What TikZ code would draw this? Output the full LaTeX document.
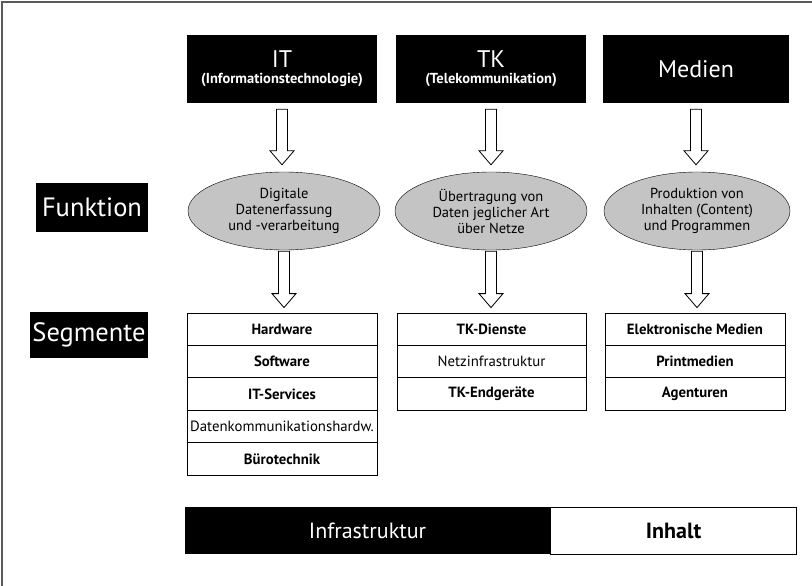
\documentclass[tikz,border=0pt]{standalone}
\usepackage{fontspec}
\setmainfont{PT Sans}
\usetikzlibrary{positioning,shapes.geometric,calc}
\definecolor{ellgray}{HTML}{C4C4C4}
\definecolor{framegray}{HTML}{5A5A5A}

\tikzset{
  headbox/.style={fill=black,text=white,minimum width=190pt,minimum height=68pt,inner sep=0pt,align=center},
  labelbox/.style={fill=black,text=white,font=\fontsize{26.5}{30}\selectfont,inner sep=0pt},
  funkell/.style={ellipse,draw=black,fill=ellgray,minimum width=192pt,minimum height=78pt,inner sep=0pt,align=center,font=\fontsize{14.5}{16}\selectfont},
  segbox/.style={draw=black,line width=0.8pt,minimum height=32.4pt,inner sep=0pt,font=\fontsize{14.8}{17}\selectfont},
  hollow/.style={draw=black,line width=0.8pt,fill=white},
  barbox/.style={minimum height=47pt,inner sep=0pt,font=\fontsize{22}{26}\selectfont}
}

% Blockpfeil: von #1 nach #2, Abstand oben #3, unten #4
\newcommand{\hollowarrow}[4]{%
  \draw[hollow] ($(#1.south)+(-5.5,#3)$) -- ($(#1.south |- #2.north)+(-5.5,-#4-14)$)
    -- ++(-6.5,0) -- ($(#1.south |- #2.north)+(0,-#4)$)
    -- ($(#1.south |- #2.north)+(12,-#4-14)$) -- ++(-6.5,0)
    -- ($(#1.south)+(5.5,#3)$) -- cycle;}

\begin{document}
\begin{tikzpicture}[x=1pt,y=-1pt]
  \useasboundingbox (0,0) rectangle (812,586);
  % Rahmen
  \draw[framegray,line width=1.5pt] (2,586) -- (2,2) -- (812,2);

  % Kopfzeile
  \node[headbox] (it) at (282,69) {{\fontsize{24}{26}\selectfont IT}\\[4pt]{\fontsize{14.5}{16}\selectfont\bfseries (Informationstechnologie)}};
  \node[headbox] (tk) at (491,69) {{\fontsize{24}{26}\selectfont TK}\\[4pt]{\fontsize{14.5}{16}\selectfont\bfseries (Telekommunikation)}};
  \node[headbox,minimum width=186pt] (me) at (696,69) {{\fontsize{24}{26}\selectfont Medien}};

  % Funktion
  \node[labelbox,minimum width=112pt,minimum height=49pt] (funktion) at (92,207.5) {Funktion};
  \node[funkell] (itf) at (284,211) {Digitale\\Datenerfassung\\und -verarbeitung};
  \node[funkell] (tkf) at (491,211) {Übertragung von\\Daten jeglicher Art\\über Netze};
  \node[funkell,minimum width=186pt] (mef) at (697,211) {Produktion von\\Inhalten (Content)\\und Programmen};

  % Segmente
  \node[labelbox,minimum width=118pt,minimum height=46pt] (segmente) at (89,335) {Segmente};
  \foreach \i/\txt in {0/\bfseries Hardware,1/\bfseries Software,2/\bfseries IT-Services,3/Datenkommunikationshardw.,4/\bfseries Bürotechnik}{
    \node[segbox,minimum width=190pt] (its\i) at (282,{329.2+\i*32.4}) {\txt};
  }
  \foreach \i/\txt in {0/\bfseries TK-Dienste,1/Netzinfrastruktur,2/\bfseries TK-Endgeräte}{
    \node[segbox,minimum width=189pt] (tks\i) at (491.5,{329.2+\i*32.4}) {\txt};
  }
  \foreach \i/\txt in {0/\bfseries Elektronische Medien,1/\bfseries Printmedien,2/\bfseries Agenturen}{
    \node[segbox,minimum width=180pt] (mes\i) at (695,{329.2+\i*32.4}) {\txt};
  }

  % Pfeile
  \hollowarrow{it}{itf}{6}{7}
  \hollowarrow{tk}{tkf}{6}{7}
  \hollowarrow{me}{mef}{6}{7}
  \hollowarrow{itf}{its0}{1}{5}
  \hollowarrow{tkf}{tks0}{1}{5}
  \hollowarrow{mef}{mes0}{1}{5}

  % Balken unten
  \node[barbox,fill=black,text=white,minimum width=365pt] (infra) at (367.5,530.5) {Infrastruktur};
  \node[barbox,draw=black,line width=0.8pt,minimum width=246pt,right=0pt of infra,font=\fontsize{22}{26}\selectfont\bfseries] (inhalt) {Inhalt};
\end{tikzpicture}
\end{document}
